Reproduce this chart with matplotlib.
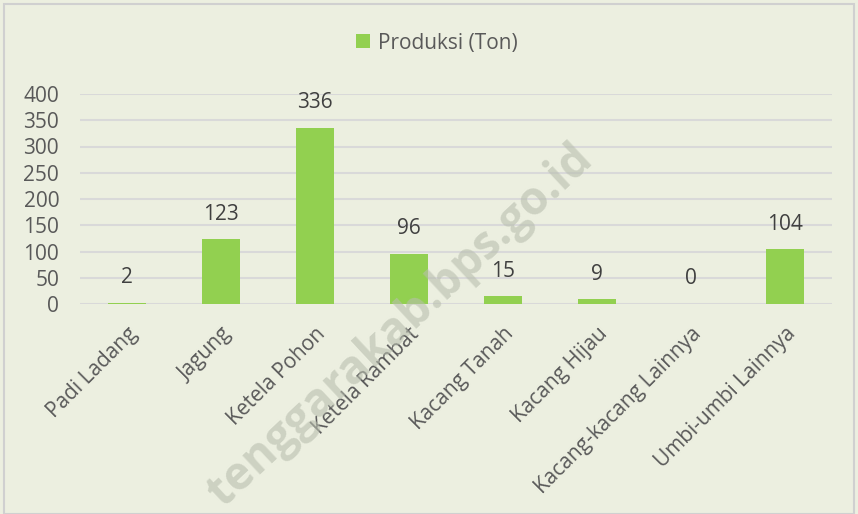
import matplotlib
matplotlib.use("Agg")
import matplotlib.pyplot as plt
import numpy as np

# data
categories = ["Padi Ladang", "Jagung", "Ketela Pohon", "Ketela Rambat",
              "Kacang Tanah", "Kacang Hijau", "Kacang-kacang Lainnya",
              "Umbi-umbi Lainnya"]
produksi = [2, 123, 336, 96, 15, 9, 0, 104]
y_ticks = [0, 50, 100, 150, 200, 250, 300, 350, 400]

BG = "#ECEFE0"
BAR = "#92D050"
GRID = "#D9D9D9"
TXT = "#595959"

plt.rcParams["font.family"] = ["Open Sans", "DejaVu Sans"]

fig = plt.figure(figsize=(8.58, 5.14), dpi=100, facecolor=BG)
ax = fig.add_axes([80 / 858, 1 - 304 / 514, 752 / 858, 210 / 514])
ax.set_facecolor(BG)

x = np.arange(len(categories))
bars = ax.bar(x, produksi, width=0.4, color=BAR, zorder=3, label="Produksi (Ton)")

# value labels, ~25 px above bar top
for xi, v in zip(x, produksi):
    ax.annotate(str(v), (xi, v), xytext=(0, 18), textcoords="offset points",
                ha="center", va="center", fontsize=15, color="#404040", zorder=4)

ax.set_xlim(-0.5, len(categories) - 0.5)
ax.set_ylim(0, 400)
ax.set_yticks(y_ticks)
ax.set_yticklabels([str(t) for t in y_ticks], fontsize=15, color=TXT)
ax.set_xticks(x)
ax.set_xticklabels(categories, rotation=45, ha="right", rotation_mode="anchor",
                   fontsize=15, color=TXT)
ax.tick_params(axis="both", length=0)
ax.tick_params(axis="x", pad=14)
ax.tick_params(axis="y", pad=15)
ax.grid(axis="y", color=GRID, linewidth=1.5, zorder=0)
for s in ax.spines.values():
    s.set_visible(False)

leg = fig.legend(handles=[bars], labels=["Produksi (Ton)"], loc="center",
                 bbox_to_anchor=(437 / 858, 1 - 43 / 514), frameon=False,
                 fontsize=15, handlelength=0.65, handleheight=0.65, handletextpad=0.4)
for t in leg.get_texts():
    t.set_color(TXT)

# watermark
fig.text(400 / 858, 1 - 326 / 514, "tenggarakab.bps.go.id", rotation=43,
         ha="center", va="center", fontsize=33, fontweight="bold",
         color="#B8BEAE", alpha=0.6, zorder=10)

# outer border
fig.patches.append(plt.Rectangle((4 / 858, 0), 1 - 8 / 858, 1 - 4 / 514,
                                 transform=fig.transFigure, fill=False,
                                 edgecolor="#D0D0D0", linewidth=1.5))

fig.savefig("out.png", dpi=100, facecolor=BG)
